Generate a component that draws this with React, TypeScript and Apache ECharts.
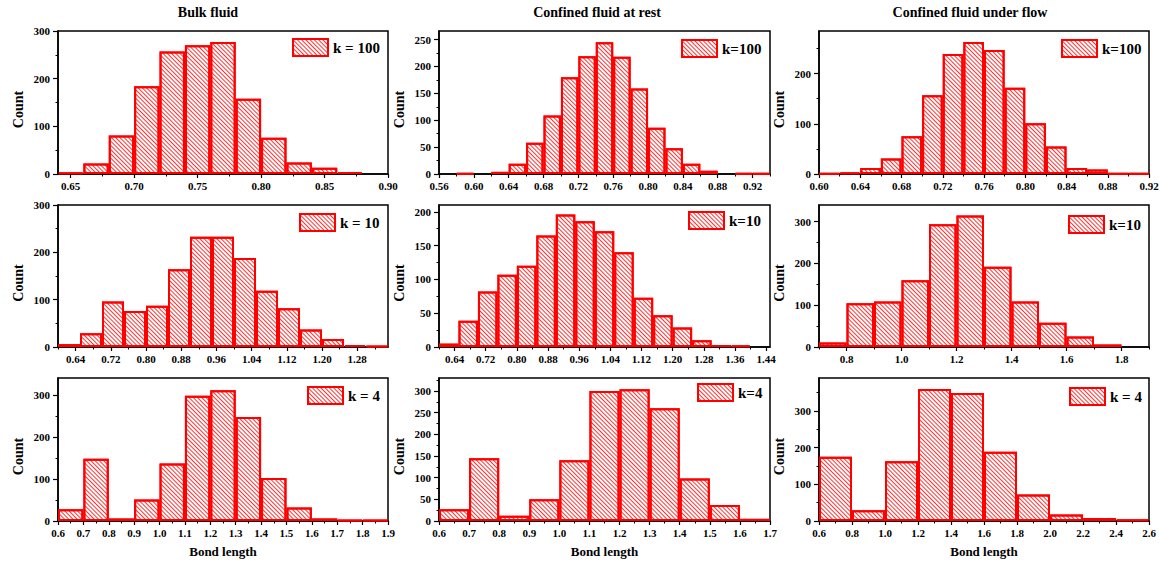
import React, { useEffect, useRef } from 'react';
import * as echarts from 'echarts';

// ---------- data ----------
const columnTitles = ['Bulk fluid', 'Confined fluid at rest', 'Confined fluid under flow'];
const legendNames = ['k = 100', 'k=100', 'k=100', 'k = 10', 'k=10', 'k=10', 'k = 4', 'k=4', 'k = 4'];

// histogram bins: first edge and width of each panel (row by row)
const binStart = [0.64, 0.56, 0.6, 0.6, 0.6, 0.7, 0.6, 0.6, 0.6];
const binWidth = [0.02, 0.02, 0.02, 0.05, 0.05, 0.1, 0.1, 0.1, 0.2];

const bulkK100 = [3, 22, 81, 184, 257, 270, 277, 158, 76, 24, 13, 4];
const restK100 = [0, 1, 0, 4, 19, 58, 109, 180, 219, 245, 218, 159, 86, 48, 19, 6, 0, 1, 1];
const flowK100 = [1, 3, 12, 31, 75, 157, 239, 263, 247, 172, 101, 55, 12, 9, 1, 1];
const bulkK10 = [6, 29, 96, 76, 87, 164, 233, 233, 188, 119, 82, 37, 17, 4, 2];
const restK10 = [5, 39, 82, 107, 120, 165, 196, 186, 171, 140, 73, 47, 29, 10, 3, 2];
const flowK10 = [11, 105, 109, 160, 294, 315, 192, 109, 58, 25, 6];
const bulkK4 = [28, 148, 6, 51, 137, 298, 311, 247, 102, 32, 6, 2, 2];
const restK4 = [27, 145, 12, 50, 140, 300, 304, 260, 98, 37, 5];
const flowK4 = [175, 29, 163, 360, 349, 189, 72, 18, 8, 4];
const panelCounts = [bulkK100, restK100, flowK100, bulkK10, restK10, flowK10, bulkK4, restK4, flowK4];

// axis ranges
const xMin = [0.64, 0.56, 0.6, 0.6, 0.6, 0.7, 0.6, 0.6, 0.6];
const xMax = [0.9, 0.94, 0.92, 1.35, 1.45, 1.9, 1.9, 1.7, 2.6];
const yMax = [300, 266, 285, 300, 210, 340, 340, 330, 390];
const xDecimals = [2, 2, 2, 2, 2, 1, 1, 1, 1];

// tick labels (major) and minor ticks
const xMajor = [
  [0.65, 0.7, 0.75, 0.8, 0.85, 0.9],
  [0.56, 0.6, 0.64, 0.68, 0.72, 0.76, 0.8, 0.84, 0.88, 0.92],
  [0.6, 0.64, 0.68, 0.72, 0.76, 0.8, 0.84, 0.88, 0.92],
  [0.64, 0.72, 0.8, 0.88, 0.96, 1.04, 1.12, 1.2, 1.28],
  [0.64, 0.72, 0.8, 0.88, 0.96, 1.04, 1.12, 1.2, 1.28, 1.36, 1.44],
  [0.8, 1.0, 1.2, 1.4, 1.6, 1.8],
  [0.6, 0.7, 0.8, 0.9, 1.0, 1.1, 1.2, 1.3, 1.4, 1.5, 1.6, 1.7, 1.8, 1.9],
  [0.6, 0.7, 0.8, 0.9, 1.0, 1.1, 1.2, 1.3, 1.4, 1.5, 1.6, 1.7],
  [0.6, 0.8, 1.0, 1.2, 1.4, 1.6, 1.8, 2.0, 2.2, 2.4, 2.6],
];
const xMinor = [
  [0.675, 0.725, 0.775, 0.825, 0.875],
  [0.58, 0.62, 0.66, 0.7, 0.74, 0.78, 0.82, 0.86, 0.9, 0.94],
  [0.62, 0.66, 0.7, 0.74, 0.78, 0.82, 0.86, 0.9],
  [0.6, 0.68, 0.76, 0.84, 0.92, 1.0, 1.08, 1.16, 1.24, 1.32],
  [0.6, 0.68, 0.76, 0.84, 0.92, 1.0, 1.08, 1.16, 1.24, 1.32, 1.4],
  [0.7, 0.9, 1.1, 1.3, 1.5, 1.7, 1.9],
  [0.65, 0.75, 0.85, 0.95, 1.05, 1.15, 1.25, 1.35, 1.45, 1.55, 1.65, 1.75, 1.85],
  [0.65, 0.75, 0.85, 0.95, 1.05, 1.15, 1.25, 1.35, 1.45, 1.55, 1.65],
  [0.7, 0.9, 1.1, 1.3, 1.5, 1.7, 1.9, 2.1, 2.3, 2.5],
];
const yMajor = [
  [0, 100, 200, 300],
  [0, 50, 100, 150, 200, 250],
  [0, 100, 200],
  [0, 100, 200, 300],
  [0, 50, 100, 150, 200],
  [0, 100, 200, 300],
  [0, 100, 200, 300],
  [0, 50, 100, 150, 200, 250, 300],
  [0, 100, 200, 300],
];
const yMinor = [
  [50, 150, 250],
  [25, 75, 125, 175, 225],
  [50, 150, 250],
  [50, 150, 250],
  [25, 75, 125, 175],
  [50, 150, 250],
  [50, 150, 250],
  [25, 75, 125, 175, 225, 275, 325],
  [50, 150, 250, 350],
];

// ---------- layout ----------
const FONT = 'Liberation Serif';
const gridLeft = [58, 439, 819];
const gridWidth = [330, 331, 330];
const gridTop = [31, 205, 378];
const gridHeight = [143, 142, 143];
const titleCenter = [208, 597, 970];
const legendLeft = [292, 681, 1061, 299, 688, 1068, 307, 697, 1069];
const legendTop = [38, 39, 39, 213, 211, 215, 386, 383, 387];

const hatch = {
  symbol: 'rect',
  symbolSize: 1,
  color: 'rgba(255,0,0,0.8)',
  dashArrayX: [1, 0],
  dashArrayY: [1, 2],
  rotation: Math.PI / 4,
};

export default function App() {
  const ref = useRef<HTMLDivElement>(null);
  useEffect(() => {
    document.body.style.margin = '0';
    const chart = echarts.init(ref.current as HTMLDivElement, null, { renderer: 'svg' });
    const grid: any[] = [];
    const xAxis: any[] = [];
    const yAxis: any[] = [];
    const series: any[] = [];
    const legend: any[] = [];
    const boldText = { fontFamily: FONT, fontWeight: 'bold', color: '#000' };
    for (let i = 0; i < 9; i++) {
      const r = Math.floor(i / 3);
      const c = i % 3;
      grid.push({
        left: gridLeft[c], top: gridTop[r], width: gridWidth[c], height: gridHeight[r],
        show: true, borderColor: '#000', borderWidth: 1.5, backgroundColor: 'transparent',
      });
      xAxis.push({
        type: 'value', gridIndex: i, position: 'bottom', min: xMin[i], max: xMax[i],
        name: r === 2 ? 'Bond length' : '', nameLocation: 'middle', nameGap: 24,
        nameTextStyle: { ...boldText, fontSize: 13 },
        axisLine: { show: true, onZero: false, lineStyle: { color: '#000', width: 1.5 } },
        axisTick: { show: true, customValues: xMajor[i], length: 4, lineStyle: { color: '#000', width: 1.2 } },
        axisLabel: {
          show: true, customValues: xMajor[i], margin: 6, ...boldText, fontSize: 11,
          formatter: (v: number) => v.toFixed(xDecimals[i]),
        },
        splitLine: { show: false },
      });
      xAxis.push({
        type: 'value', gridIndex: i, position: 'bottom', min: xMin[i], max: xMax[i],
        axisLine: { show: false },
        axisTick: { show: true, customValues: xMinor[i], length: 2.5, lineStyle: { color: '#000', width: 1 } },
        axisLabel: { show: false },
        splitLine: { show: false },
      });
      yAxis.push({
        type: 'value', gridIndex: i, position: 'left', min: 0, max: yMax[i],
        name: 'Count', nameLocation: 'middle', nameGap: 33,
        nameTextStyle: { ...boldText, fontSize: 14, padding: [0, 14, 0, 0] },
        axisLine: { show: true, lineStyle: { color: '#000', width: 1.5 } },
        axisTick: { show: true, customValues: yMajor[i], length: 5, lineStyle: { color: '#000', width: 1.2 } },
        axisLabel: { show: true, customValues: yMajor[i], margin: 8, ...boldText, fontSize: 11 },
        splitLine: { show: false },
      });
      yAxis.push({
        type: 'value', gridIndex: i, position: 'left', min: 0, max: yMax[i],
        axisLine: { show: false },
        axisTick: { show: true, customValues: yMinor[i], length: 2.5, lineStyle: { color: '#000', width: 1 } },
        axisLabel: { show: false },
        splitLine: { show: false },
      });
      const data = panelCounts[i].map((v, j) => [
        Number((binStart[i] + (j + 0.5) * binWidth[i]).toFixed(4)),
        v === 0 ? '-' : v,
      ]);
      series.push({
        type: 'bar', name: legendNames[i], xAxisIndex: 2 * i, yAxisIndex: 2 * i,
        data, barWidth: '100%', silent: true,
        itemStyle: { color: '#ffffff', borderColor: '#ff0000', borderWidth: 2, decal: hatch },
        emphasis: { disabled: true },
      });
      legend.push({
        data: [legendNames[i]], left: legendLeft[i], top: legendTop[i], padding: 0,
        itemWidth: 35, itemHeight: 17, icon: 'rect', selectedMode: false,
        itemStyle: { borderWidth: 2, borderColor: '#ff0000' },
        textStyle: { ...boldText, fontSize: 15 },
      });
    }
    const title = columnTitles.map((t, c) => ({
      text: t, left: titleCenter[c], top: 5, textAlign: 'center', padding: 0,
      textStyle: { ...boldText, fontSize: 14 },
    }));
    chart.setOption({
      animation: false,
      backgroundColor: '#ffffff',
      title, grid, xAxis, yAxis, series, legend,
    });
    return () => chart.dispose();
  }, []);
  return <div ref={ref} style={{ width: 1164, height: 563 }} />;
}
